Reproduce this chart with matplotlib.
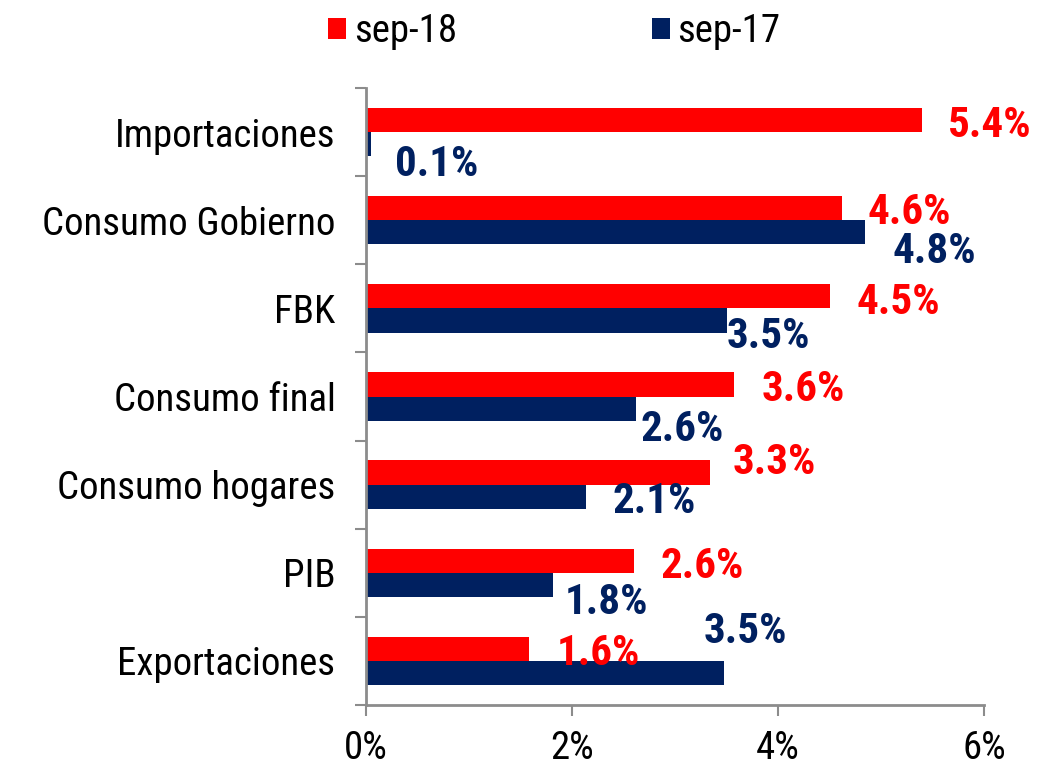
import matplotlib
matplotlib.use("Agg")
import matplotlib.pyplot as plt
import numpy as np

categories = ["Importaciones", "Consumo Gobierno", "FBK", "Consumo final",
              "Consumo hogares", "PIB", "Exportaciones"]
sep18 = [5.4, 4.62, 4.5, 3.57, 3.34, 2.6, 1.58]
sep17 = [0.05, 4.84, 3.5, 2.62, 2.14, 1.82, 3.48]
sep18_labels = ["5.4%", "4.6%", "4.5%", "3.6%", "3.3%", "2.6%", "1.6%"]
sep17_labels = ["0.1%", "4.8%", "3.5%", "2.6%", "2.1%", "1.8%", "3.5%"]
xticks = [0, 2, 4, 6]
xtick_labels = ["0%", "2%", "4%", "6%"]

# label offsets in pixels (dx from bar end to label's left edge, dy up from bar center)
red_off = [(26, -4), (26, -2), (27, -4), (28, -3), (23, 12), (27, -4), (28, -3)]
blue_off = [(24, -18), (28, -17), (0, -14), (5, -19), (26, -3), (11, -16), (-21, 44)]

plt.rcParams['font.family'] = ['Roboto Condensed', 'DejaVu Sans']

RED = "#FF0000"
BLUE = "#002060"
GREY = "#8C8C8C"

fig = plt.figure(figsize=(10.51, 7.73), dpi=100)
ax = fig.add_axes([366/1051, 1-705/773, (984-366)/1051, (705-88)/773])

y = np.arange(len(categories))
h = 0.275
ax.barh(y - h/2, sep18, height=h, color=RED, label="sep-18")
ax.barh(y + h/2, sep17, height=h, color=BLUE, label="sep-17")

for i in range(len(categories)):
    ax.annotate(sep18_labels[i], (sep18[i], y[i] - h/2), xytext=(red_off[i][0], red_off[i][1] - 2),
                textcoords="offset pixels", ha="left", va="center",
                color=RED, fontsize=31, fontweight="bold")
    ax.annotate(sep17_labels[i], (sep17[i], y[i] + h/2), xytext=(blue_off[i][0], blue_off[i][1] - 2),
                textcoords="offset pixels", ha="left", va="center",
                color=BLUE, fontsize=31, fontweight="bold")

ax.set_xlim(0, 6)
ax.set_ylim(len(categories) - 0.5, -0.5)
ax.set_xticks(xticks)
ax.set_xticklabels(xtick_labels, fontsize=28)
ax.set_yticks(np.arange(-0.5, len(categories), 1.0))
ax.set_yticklabels([])
ax.set_yticks(y, minor=True)
ax.set_yticklabels(categories, minor=True, fontsize=28)
ax.tick_params(axis='y', which='minor', length=0, pad=22)
ax.tick_params(axis='y', which='major', length=8, width=1.5, color=GREY, direction='out')
ax.tick_params(axis='x', length=8, width=1.5, color=GREY, direction='out', pad=10)

for s in ["top", "right"]:
    ax.spines[s].set_visible(False)
for s in ["left", "bottom"]:
    ax.spines[s].set_color(GREY)
    ax.spines[s].set_linewidth(2)

fig.legend(loc="center", bbox_to_anchor=(0.5276, 0.959), ncol=2, frameon=False,
           fontsize=28, handlelength=0.46, handleheight=0.46, columnspacing=5.0,
           handletextpad=0.2, borderpad=0)

fig.savefig("out.png", dpi=100)
